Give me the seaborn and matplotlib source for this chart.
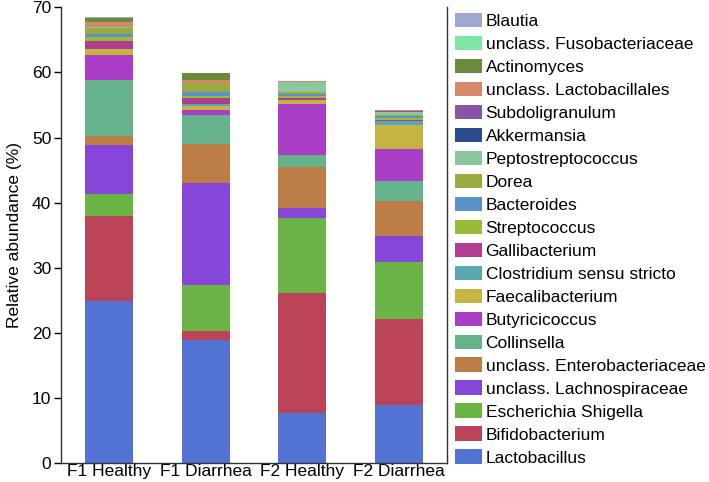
import matplotlib
matplotlib.use("Agg")
import matplotlib.pyplot as plt
from matplotlib.patches import Patch
import seaborn as sns
import pandas as pd
import numpy as np

samples = ["F1 Healthy", "F1 Diarrhea", "F2 Healthy", "F2 Diarrhea"]

# taxa in legend order (top of stack first)
taxa = ["Blautia", "unclass. Fusobacteriaceae", "Actinomyces", "unclass. Lactobacillales",
        "Subdoligranulum", "Akkermansia", "Peptostreptococcus", "Dorea", "Bacteroides",
        "Streptococcus", "Gallibacterium", "Clostridium sensu stricto", "Faecalibacterium",
        "Butyricicoccus", "Collinsella", "unclass. Enterobacteriaceae",
        "unclass. Lachnospiraceae", "Escherichia Shigella", "Bifidobacterium", "Lactobacillus"]

colors = ["#a0a8d2", "#7fe6a6", "#6a8a3c", "#d4896c", "#8a54a8", "#2c4a8c", "#8cc69c",
          "#9aaa40", "#5a92c8", "#9aba3c", "#b03e8e", "#58a8b0", "#c4b442", "#aa3ec6",
          "#66b28c", "#bc7e46", "#8646d8", "#6ab446", "#bc4458", "#5272d4"]

# values per sample (%), same order as taxa
f1_healthy = [0.15, 0.0, 0.6, 0.75, 0.0, 0.0, 0.1, 1.0, 0.35, 0.66, 1.18, 0.1, 0.87,
              3.85, 8.6, 1.35, 7.6, 3.3, 13.1, 24.9]
f1_diarrhea = [0.0, 0.0, 1.0, 0.5, 0.0, 0.0, 0.0, 1.38, 0.56, 0.36, 0.87, 0.3, 0.6,
               0.77, 4.5, 5.9, 15.7, 7.1, 1.3, 19.0]
f2_healthy = [0.0, 0.0, 0.0, 0.15, 0.0, 0.0, 1.5, 0.3, 0.3, 0.35, 0.26, 0.1, 0.5,
              7.9, 1.8, 6.3, 1.5, 11.5, 18.5, 7.7]
f2_diarrhea = [0.0, 0.0, 0.0, 0.15, 0.05, 0.0, 0.5, 0.2, 0.3, 0.3, 0.2, 0.6, 3.7,
               4.8, 3.1, 5.4, 4.0, 8.8, 13.2, 8.9]

values = np.array([f1_healthy, f1_diarrhea, f2_healthy, f2_diarrhea]).T  # taxa x samples

plt.rcParams["font.family"] = ["Liberation Sans", "DejaVu Sans"]

fig = plt.figure(figsize=(7.09, 4.82), dpi=100)
ax = fig.add_axes([61 / 709, 1 - 463.3 / 482, (447 - 61) / 709, (463.3 - 7.3) / 482])

# stacked via cumulative sums: taxon i (legend order) top = sum of values from i to end
cum = np.cumsum(values[::-1], axis=0)[::-1]
for i, taxon in enumerate(taxa):
    df = pd.DataFrame({"sample": samples, "cum": cum[i]})
    sns.barplot(data=df, x="sample", y="cum", color=colors[i], saturation=1,
                width=0.5, errorbar=None, ax=ax, linewidth=0, order=samples)

ax.set_xlim(-0.5, 3.5)
ax.set_ylim(0, 70)
ax.set_yticks(range(0, 71, 10))
ax.set_xlabel("")
ax.set_ylabel("Relative abundance (%)", fontsize=12.5)
ax.yaxis.set_label_coords(-0.102, 0.5)
ax.tick_params(axis="y", length=5, width=1, labelsize=12.5, pad=2)
ax.tick_params(axis="x", length=0, labelsize=12.5, pad=0.5)
ax.spines["top"].set_visible(False)
for s in ["left", "bottom", "right"]:
    ax.spines[s].set_linewidth(1.0)
    ax.spines[s].set_color("#333333")

handles = [Patch(facecolor=c, edgecolor="none", label=t) for t, c in zip(taxa, colors)]
fig.legend(handles=handles, loc="upper left", bbox_to_anchor=(455 / 709, 1 - 13 / 482),
           frameon=False, fontsize=12.5, handlelength=1.56, handleheight=0.9,
           handletextpad=0.2, labelspacing=0.39, borderpad=0, borderaxespad=0)

fig.savefig("out.png", dpi=100)
